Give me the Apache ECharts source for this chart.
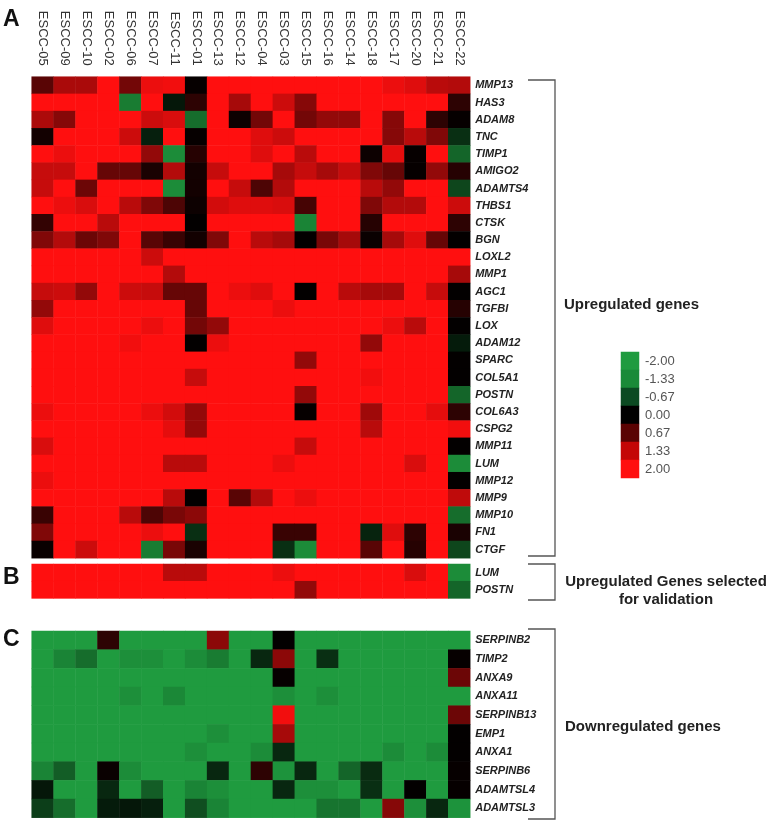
<!DOCTYPE html>
<html>
<head>
<meta charset="utf-8">
<script src="https://cdn.jsdelivr.net/npm/echarts@6/dist/echarts.min.js"></script>
<style>
  html, body { margin: 0; padding: 0; background: #ffffff; }
  #chart { width: 774px; height: 824px; }
</style>
</head>
<body>
<div id="chart"></div>
<script>
// ---------- categories ----------
const columns = ['ESCC-05','ESCC-09','ESCC-10','ESCC-02','ESCC-06','ESCC-07','ESCC-11','ESCC-01','ESCC-13','ESCC-12',
                 'ESCC-04','ESCC-03','ESCC-15','ESCC-16','ESCC-14','ESCC-18','ESCC-17','ESCC-20','ESCC-21','ESCC-22'];

const genesA = ['MMP13','HAS3','ADAM8','TNC','TIMP1','AMIGO2','ADAMTS4','THBS1','CTSK','BGN','LOXL2','MMP1','AGC1','TGFBI',
                'LOX','ADAM12','SPARC','COL5A1','POSTN','COL6A3','CSPG2','MMP11','LUM','MMP12','MMP9','MMP10','FN1','CTGF'];
const genesB = ['LUM','POSTN'];
const genesC = ['SERPINB2','TIMP2','ANXA9','ANXA11','SERPINB13','EMP1','ANXA1','SERPINB6','ADAMTSL4','ADAMTSL3'];

const legendTicks = ['-2.00','-1.33','-0.67','0.00','0.67','1.33','2.00'];
const legendValues = [-2, -1.33, -0.67, 0, 0.67, 1.33, 2];

// ---------- values (one row per gene, one value per column) ----------
const valuesA = [
  [0.7,1.33,1.33,2,0.9,1.85,1.9,0.05,2,2,2,2,2,2,2,2,1.85,1.75,1.45,1.4],      // MMP13
  [2,2,2,2,-1.6,2,-0.3,0.35,2,1.3,2,1.6,1.05,2,2,2,2,2,2,0.35],               // HAS3
  [1.35,1.05,2,2,2,1.6,1.7,-1.4,2,0.1,0.9,2,0.9,1.15,1.15,2,1.05,2,0.35,0.05], // ADAM8
  [0.15,2,2,2,1.6,-0.4,2,0.05,2,2,1.75,1.6,2,2,2,2,1.05,1.45,1.0,-0.6],       // TNC
  [2,1.85,2,2,2,1.15,-1.8,0.3,2,2,1.75,2,1.45,2,2,0.1,1.8,0.05,2,-1.3],       // TIMP1
  [1.55,1.55,2,0.8,0.8,0.2,1.4,0.15,1.55,2,2,1.3,1.55,1.3,1.55,1.0,0.8,0.05,1.15,0.3], // AMIGO2
  [1.55,2,0.85,2,2,2,-1.8,0.15,2,1.55,0.6,1.4,2,2,2,1.45,1.15,2,2,-0.9],      // ADAMTS4
  [2,1.85,1.7,2,1.45,1.0,0.6,0.1,1.65,1.75,1.75,1.7,0.55,2,2,1.0,1.4,1.4,2,1.6], // THBS1
  [0.4,2,2,1.45,2,2,2,0.02,2,2,2,2,-1.7,2,2,0.3,2,2,2,0.35],                  // CTSK
  [1.0,1.4,0.85,1.0,2,0.7,0.45,0.15,1.0,2,1.45,1.3,0.02,0.95,1.3,0.08,1.3,1.75,0.8,0.02], // BGN
  [2,2,2,2,2,1.6,2,2,2,2,2,2,2,2,2,2,2,2,2,2],                                 // LOXL2
  [2,2,2,2,2,2,1.4,2,2,2,2,2,2,2,2,2,2,2,2,1.3],                               // MMP1
  [1.55,1.6,1.15,2,1.6,1.55,0.8,0.8,2,1.85,1.75,2,0.02,2,1.45,1.3,1.3,2,1.55,0.02], // AGC1
  [1.15,2,2,2,2,2,2,0.8,2,2,2,1.85,2,2,2,2,2,2,2,0.3],                         // TGFBI
  [1.75,2,2,2,2,1.85,2,0.9,1.15,2,2,2,2,2,2,2,1.85,1.45,2,0.02],               // LOX
  [2,2,2,2,1.9,2,2,0.02,1.85,2,2,2,2,2,2,1.15,2,2,2,-0.35],                    // ADAM12
  [2,2,2,2,2,2,2,2,2,2,2,2,1.15,2,2,2,2,2,2,0.02],                             // SPARC
  [2,2,2,2,2,2,2,1.55,2,2,2,2,2,2,2,1.9,2,2,2,0.02],                           // COL5A1
  [2,2,2,2,2,2,2,2,2,2,2,2,1.15,2,2,2,2,2,2,-1.3],                             // POSTN
  [1.85,2,2,2,2,1.85,1.65,1.15,2,2,2,2,0.05,2,2,1.25,2,2,1.8,0.35],            // COL6A3
  [2,2,2,2,2,2,1.8,1.15,2,2,2,2,2,2,2,1.45,2,2,2,1.9],                         // CSPG2
  [1.7,2,2,2,2,2,2,2,2,2,2,2,1.55,2,2,2,2,2,2,0.02],                           // MMP11
  [2,2,2,2,2,2,1.45,1.45,2,2,2,1.85,2,2,2,2,2,1.7,2,-1.8],                     // LUM
  [1.85,2,2,2,2,2,2,2,2,2,2,2,2,2,2,2,2,2,2,0.02],                             // MMP12
  [2,2,2,2,2,2,1.45,0.02,2,0.7,1.4,2,1.85,2,2,2,2,2,2,1.5],                    // MMP9
  [0.45,2,2,2,1.45,0.6,0.95,1.1,2,2,2,2,2,2,2,2,2,2,2,-1.4],                   // MMP10
  [1.0,2,2,2,2,1.85,2,-0.6,2,2,2,0.45,0.45,2,2,-0.45,1.75,0.35,2,0.2],          // FN1
  [0.08,2,1.6,2,2,-1.6,0.95,0.2,2,2,2,-0.6,-1.8,2,2,0.7,2,0.3,2,-0.9]          // CTGF
];

const valuesB = [
  [2,2,2,2,2,2,1.45,1.45,2,2,2,1.85,2,2,2,2,2,1.7,2,-1.8],                     // LUM
  [2,2,2,2,2,2,2,2,2,2,2,2,1.15,2,2,2,2,2,2,-1.3]                              // POSTN
];

const valuesC = [
  [-2,-2,-2,0.35,-2,-2,-2,-2,1.1,-2,-2,0.02,-2,-2,-2,-2,-2,-2,-2,-2],           // SERPINB2
  [-2,-1.7,-1.4,-2,-1.85,-1.85,-2,-1.8,-1.6,-2,-0.5,1.1,-2,-0.6,-2,-2,-2,-2,-2,0.05], // TIMP2
  [-2,-2,-2,-2,-2,-2,-2,-2,-2,-2,-2,0.05,-2,-2,-2,-2,-2,-2,-2,0.85],            // ANXA9
  [-2,-2,-2,-2,-1.85,-2,-1.75,-2,-2,-2,-2,-1.85,-2,-1.85,-2,-2,-2,-2,-2,-2],     // ANXA11
  [-2,-2,-2,-2,-2,-2,-2,-2,-2,-2,-2,1.9,-2,-2,-2,-2,-2,-2,-2,0.85],             // SERPINB13
  [-2,-2,-2,-2,-2,-2,-2,-2,-1.85,-2,-2,1.3,-2,-2,-2,-2,-2,-2,-2,0.02],          // EMP1
  [-2,-2,-2,-2,-2,-2,-2,-1.85,-2,-2,-1.8,-0.5,-2,-2,-2,-2,-1.8,-2,-1.8,0.02],   // ANXA1
  [-1.7,-1.2,-2,0.08,-1.8,-2,-2,-2,-0.5,-2,0.35,-1.9,-0.5,-2,-1.3,-0.55,-2,-2,-2,0.05], // SERPINB6
  [-0.3,-2,-2,-0.5,-2,-1.2,-2,-1.7,-1.85,-2,-2,-0.5,-1.85,-1.85,-2,-0.6,-2,0.02,-2,0.05], // ADAMTSL4
  [-0.8,-1.4,-2,-0.35,-0.3,-0.4,-2,-1.0,-1.7,-2,-2,-2,-2,-1.5,-1.5,-2,1.05,-1.85,-0.5,-1.9] // ADAMTSL3
];

// ---------- build series data ----------
function cells(rows) {
  const out = [];
  rows.forEach((row, r) => row.forEach((v, c) => out.push([c, r, v])));
  return out;
}
const legendData = legendValues.map((v, i) => [0, i, v]);

const geneLabel = {
  fontStyle: 'italic', fontWeight: 'bold', fontSize: 11, color: '#222',
  fontFamily: 'Liberation Sans, Arial, sans-serif', margin: 5
};
const hidden = { show: false };

const L = 31.7, W = 438.5;

const option = {
  backgroundColor: '#ffffff',
  animation: false,
  textStyle: { fontFamily: 'Liberation Sans, Arial, sans-serif' },
  grid: [
    { left: L, top: 76.7, width: W, height: 481.5 },
    { left: L, top: 564, width: W, height: 34.4 },
    { left: L, top: 631, width: W, height: 186.7 },
    { left: 621, top: 352, width: 18, height: 126 }
  ],
  xAxis: [
    { type: 'category', gridIndex: 0, data: columns, position: 'top',
      axisLine: hidden, axisTick: hidden, splitLine: hidden,
      axisLabel: { rotate: 90, interval: 0, margin: 11, fontSize: 13, color: '#333' } },
    { type: 'category', gridIndex: 1, data: columns, show: false },
    { type: 'category', gridIndex: 2, data: columns, show: false },
    { type: 'category', gridIndex: 3, data: ['k'], show: false }
  ],
  yAxis: [
    { type: 'category', gridIndex: 0, data: genesA, inverse: true, position: 'right',
      axisLine: hidden, axisTick: hidden, axisLabel: Object.assign({ interval: 0 }, geneLabel) },
    { type: 'category', gridIndex: 1, data: genesB, inverse: true, position: 'right',
      axisLine: hidden, axisTick: hidden, axisLabel: Object.assign({ interval: 0 }, geneLabel) },
    { type: 'category', gridIndex: 2, data: genesC, inverse: true, position: 'right',
      axisLine: hidden, axisTick: hidden, axisLabel: Object.assign({ interval: 0 }, geneLabel) },
    { type: 'category', gridIndex: 3, data: legendTicks, inverse: true, position: 'right',
      axisLine: hidden, axisTick: hidden,
      axisLabel: { interval: 0, margin: 6, fontSize: 13, color: '#555' } }
  ],
  visualMap: [
    { type: 'continuous', show: false, seriesIndex: [0, 1, 2], dimension: 2,
      min: -2, max: 2, inRange: { color: ['#1f9b3f', '#000000', '#ff0f0f'] } },
    { type: 'piecewise', show: false, seriesIndex: [3], dimension: 2,
      pieces: [
        { gte: -2.5, lt: -1.6, color: '#1f9b3f' },
        { gte: -1.6, lt: -1.0, color: '#1a8a38' },
        { gte: -1.0, lt: -0.3, color: '#0b4a22' },
        { gte: -0.3, lt: 0.3, color: '#000000' },
        { gte: 0.3, lt: 1.0, color: '#5a0303' },
        { gte: 1.0, lt: 1.6, color: '#c40606' },
        { gte: 1.6, lte: 2.5, color: '#ff0f0f' }
      ] }
  ],
  series: [
    { type: 'heatmap', xAxisIndex: 0, yAxisIndex: 0, data: cells(valuesA), itemStyle: { borderWidth: 0 } },
    { type: 'heatmap', xAxisIndex: 1, yAxisIndex: 1, data: cells(valuesB), itemStyle: { borderWidth: 0 } },
    { type: 'heatmap', xAxisIndex: 2, yAxisIndex: 2, data: cells(valuesC), itemStyle: { borderWidth: 0 } },
    { type: 'heatmap', xAxisIndex: 3, yAxisIndex: 3, data: legendData, itemStyle: { borderWidth: 0 } }
  ],
  graphic: [
    { type: 'polyline', shape: { points: [[528, 80], [555, 80], [555, 556], [528, 556]] },
      style: { stroke: '#555', lineWidth: 1.3, fill: null } },
    { type: 'polyline', shape: { points: [[528, 564], [555, 564], [555, 600], [528, 600]] },
      style: { stroke: '#555', lineWidth: 1.3, fill: null } },
    { type: 'polyline', shape: { points: [[528, 629], [555, 629], [555, 819], [528, 819]] },
      style: { stroke: '#555', lineWidth: 1.3, fill: null } },
    { type: 'text', left: 3, top: 8, style: { text: 'A', fontSize: 23, fontWeight: 'bold', fill: '#111' } },
    { type: 'text', left: 3, top: 566, style: { text: 'B', fontSize: 23, fontWeight: 'bold', fill: '#111' } },
    { type: 'text', left: 3, top: 628, style: { text: 'C', fontSize: 23, fontWeight: 'bold', fill: '#111' } },
    { type: 'text', x: 564, y: 305, style: { text: 'Upregulated genes', fontSize: 15, fontWeight: 'bold',
      fill: '#222', textVerticalAlign: 'middle' } },
    { type: 'text', x: 666, y: 582, style: { text: 'Upregulated Genes selected', fontSize: 15, fontWeight: 'bold',
      fill: '#222', textAlign: 'center', textVerticalAlign: 'middle' } },
    { type: 'text', x: 666, y: 600, style: { text: 'for validation', fontSize: 15, fontWeight: 'bold',
      fill: '#222', textAlign: 'center', textVerticalAlign: 'middle' } },
    { type: 'text', x: 565, y: 727, style: { text: 'Downregulated genes', fontSize: 15, fontWeight: 'bold',
      fill: '#222', textVerticalAlign: 'middle' } }
  ]
};

const chart = echarts.init(document.getElementById('chart'), null, { renderer: 'canvas' });
chart.setOption(option);
</script>
</body>
</html>
